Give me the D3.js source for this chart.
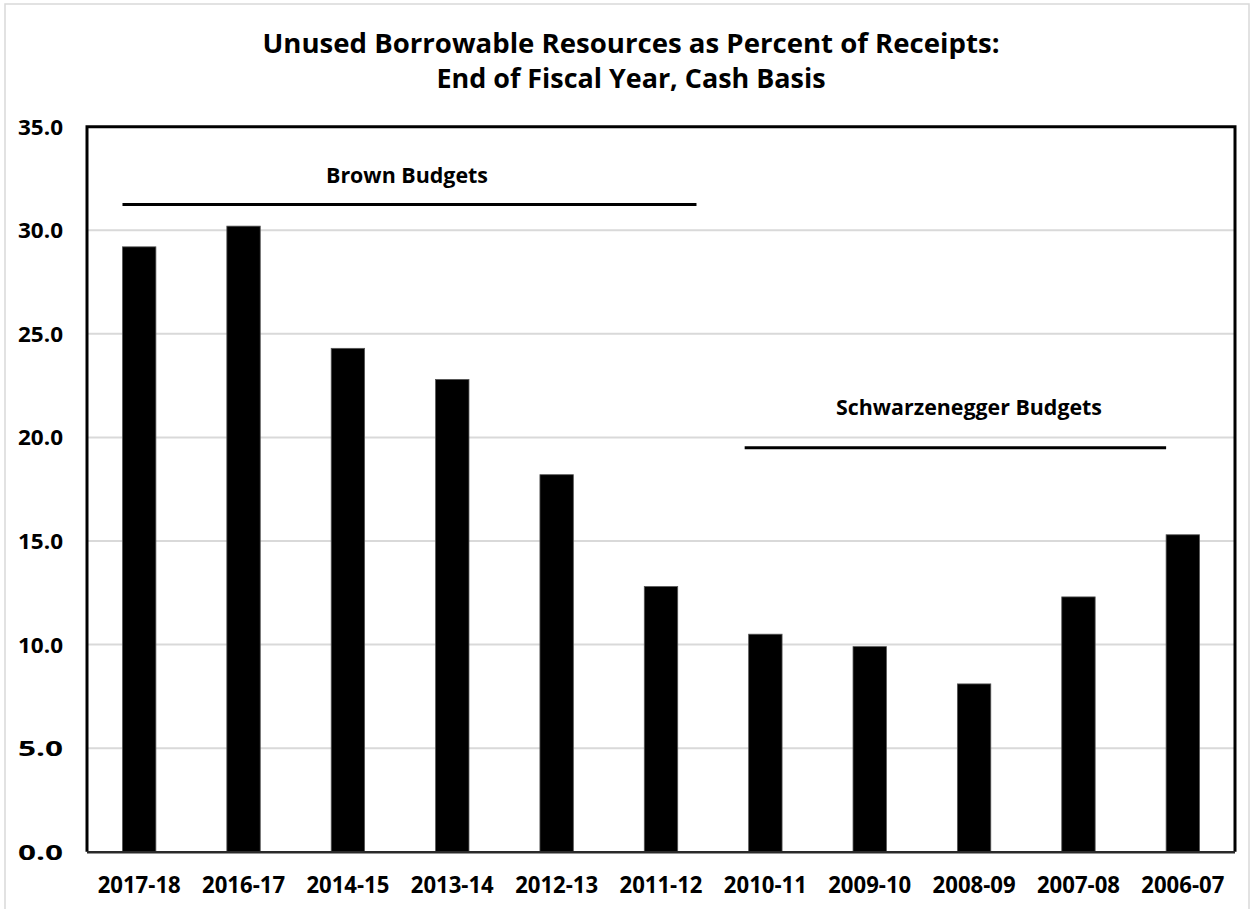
<!DOCTYPE html>
<html>
<head>
<meta charset="utf-8">
<script src="https://cdn.jsdelivr.net/npm/d3@7"></script>
<style>
  html, body { margin: 0; padding: 0; background: #fff; }
  svg { display: block; }
  text { font-family: "Open Sans", "Noto Sans", sans-serif; font-weight: 700; fill: #000; }
</style>
</head>
<body>
<svg id="chart" width="1254" height="909"></svg>
<script>
// Fiscal years, most recent first
const categories = ["2017-18", "2016-17", "2014-15", "2013-14", "2012-13", "2011-12",
                    "2010-11", "2009-10", "2008-09", "2007-08", "2006-07"];
// Unused borrowable resources as percent of receipts
const values = [29.2, 30.2, 24.3, 22.8, 18.2, 12.8, 10.5, 9.9, 8.1, 12.3, 15.3];
const yTicks = [0, 5, 10, 15, 20, 25, 30, 35];
// Budget-period brackets: label, first and last fiscal year covered, level
const periodLabels = ["Brown Budgets", "Schwarzenegger Budgets"];
const periodStart = ["2017-18", "2010-11"];
const periodEnd = ["2011-12", "2006-07"];
const periodLevel = [31.25, 19.5];

const titleLines = ["Unused Borrowable Resources as Percent of Receipts:",
                    "End of Fiscal Year, Cash Basis"];

const svg = d3.select("#chart");
const plot = { left: 87, right: 1235, top: 126.7, bottom: 851.7 };

// faint outer frame
svg.append("rect")
  .attr("x", 5).attr("y", 4).attr("width", 1244).attr("height", 930)
  .attr("fill", "none").attr("stroke", "#d9d9d9").attr("stroke-width", 1.5);

const x = d3.scaleBand()
  .domain(categories)
  .range([plot.left, plot.right])
  .paddingInner(0.68)
  .paddingOuter(0.34);

const y = d3.scaleLinear()
  .domain([0, 35])
  .range([plot.bottom, plot.top]);

// title
svg.selectAll("text.title")
  .data(titleLines)
  .join("text")
  .attr("class", "title")
  .attr("x", 631)
  .attr("y", (d, i) => 53 + i * 35)
  .attr("text-anchor", "middle")
  .attr("font-size", 26)
  .attr("textLength", (d, i) => i === 0 ? 737 : 389)
  .attr("lengthAdjust", "spacingAndGlyphs")
  .text(d => d);

// horizontal gridlines
svg.append("g")
  .selectAll("line")
  .data(yTicks.filter(t => t > 0 && t < 35))
  .join("line")
  .attr("x1", plot.left).attr("x2", plot.right)
  .attr("y1", d => y(d)).attr("y2", d => y(d))
  .attr("stroke", "#d9d9d9").attr("stroke-width", 2);

// y axis labels
const yAxis = d3.axisLeft(y).tickValues(yTicks).tickFormat(d3.format(".1f")).tickSize(0).tickPadding(24);
const gy = svg.append("g").attr("transform", `translate(${plot.left},0)`).call(yAxis);
gy.select(".domain").remove();
gy.selectAll("text")
  .attr("font-size", 21.5)
  .attr("font-family", null)
  .attr("fill", "#000")
  .attr("dy", "0.35em")
  .attr("textLength", 45)
  .attr("lengthAdjust", "spacingAndGlyphs");

// bars
svg.append("g")
  .selectAll("rect")
  .data(values)
  .join("rect")
  .attr("x", (d, i) => x(categories[i]))
  .attr("width", x.bandwidth())
  .attr("y", d => y(d))
  .attr("height", d => y(0) - y(d))
  .attr("fill", "#000")
  .attr("stroke", "#555")
  .attr("stroke-width", 0.8);

// x axis labels
const xAxis = d3.axisBottom(x).tickSize(0).tickPadding(25);
const gx = svg.append("g").attr("transform", `translate(0,${plot.bottom})`).call(xAxis);
gx.select(".domain").remove();
gx.selectAll("text")
  .attr("font-size", 22.5)
  .attr("font-family", null)
  .attr("fill", "#000")
  .attr("textLength", 83)
  .attr("lengthAdjust", "spacingAndGlyphs");

// plot frame: left, top, right heavy; baseline slightly lighter
svg.append("path")
  .attr("d", `M${plot.left},${plot.bottom} V${plot.top} H${plot.right} V${plot.bottom}`)
  .attr("fill", "none").attr("stroke", "#000").attr("stroke-width", 3);
svg.append("line")
  .attr("x1", plot.left).attr("x2", plot.right)
  .attr("y1", y(0) + 0.5).attr("y2", y(0) + 0.5)
  .attr("stroke", "#2a2a2a").attr("stroke-width", 2.5);

// budget-period brackets
const step = x.step();
const periods = periodLabels.map((label, i) => {
  const x1 = x(periodStart[i]) - (i === 0 ? 0 : 4);
  const x2 = i === 0 ? x(periodEnd[i]) + step * 0.5 : x(periodEnd[i]);
  return { label, x1, x2, level: periodLevel[i], i };
});
const pg = svg.append("g");
pg.selectAll("line")
  .data(periods)
  .join("line")
  .attr("x1", d => d.x1).attr("x2", d => d.x2)
  .attr("y1", d => y(d.level)).attr("y2", d => y(d.level))
  .attr("stroke", "#000").attr("stroke-width", 3);
pg.selectAll("text")
  .data(periods)
  .join("text")
  .attr("x", d => d.i === 0 ? 407 : 969)
  .attr("y", d => y(d.level) - (d.i === 0 ? 21 : 33))
  .attr("text-anchor", "middle")
  .attr("font-size", 21.5)
  .attr("textLength", d => d.i === 0 ? 162 : 266)
  .attr("lengthAdjust", "spacingAndGlyphs")
  .text(d => d.label);
</script>
</body>
</html>
